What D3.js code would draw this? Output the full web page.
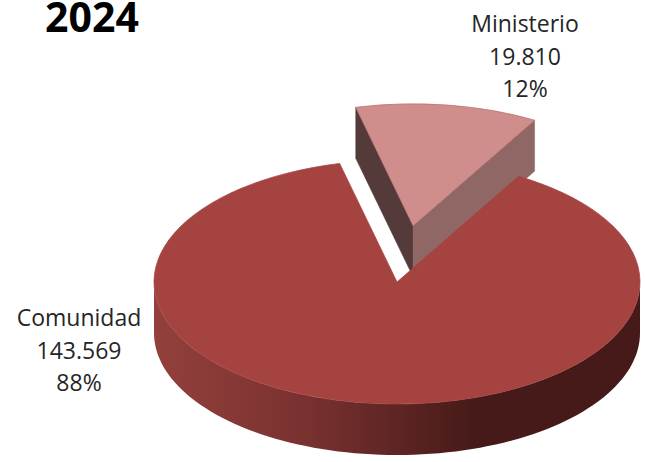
<!DOCTYPE html>
<html lang="es">
<head>
  <meta charset="utf-8">
  <title>2024</title>
  <style>
    html,body { margin:0; padding:0; overflow:hidden; background:#fff; }
    svg { display:block; }
    text { font-family:"Open Sans",sans-serif; fill:#262626; }
  </style>
  <script src="https://cdn.jsdelivr.net/npm/d3@7"></script>
</head>
<body>
  <svg width="645" height="462"></svg>
  <script>
  // data
  const title = "2024";
  const categories = ["Comunidad", "Ministerio"];
  const values = [143569, 19810];
  const valueLabels = ["143.569", "19.810"];
  const percentLabels = ["88%", "12%"];

  // pie geometry
  const cx = 397, cy = 282, rx = 243, ry = 122, depth = 51;
  const explode = 0.465;         // pull-out of the small slice, in radius units
  const rad = Math.PI / 180;

  const svg = d3.select("svg");

  const slices = d3.pie().sort(null)
    .startAngle(30 * rad)
    .endAngle(390 * rad)(values);
  const main = slices[0], small = slices[1];

  const smallMid = (small.startAngle + small.endAngle) / 2;
  const offX = rx * explode * Math.sin(smallMid);
  const offY = -ry * explode * Math.cos(smallMid);

  // point on the tilted pie; r in radius units, z going down
  const project = (angle, r, z, dx = 0, dy = 0) => [
    cx + dx + rx * r * Math.sin(angle),
    cy + dy - ry * r * Math.cos(angle) + z
  ];

  const line = d3.line();
  const arc = d3.arc().innerRadius(0).outerRadius(rx);

  const grad = svg.append("defs").append("linearGradient")
    .attr("id", "rim")
    .attr("gradientUnits", "userSpaceOnUse")
    .attr("x1", cx - rx).attr("x2", cx + rx).attr("y1", 0).attr("y2", 0);
  [[0, "#93403c"], [0.3, "#7a3230"], [0.5, "#5e2524"], [0.66, "#461a18"], [1, "#461a18"]]
    .forEach(s => grad.append("stop").attr("offset", s[0]).attr("stop-color", s[1]));

  /* small slice first, the big one overlaps its side faces */
  const face = (angle, fill) => {
    const a = project(0, 0, 0, offX, offY), b = project(angle, 1, 0, offX, offY);
    const c = project(angle, 1, depth, offX, offY), d = project(0, 0, depth, offX, offY);
    svg.append("path").attr("d", line([a, b, c, d]) + "Z")
      .attr("fill", fill).attr("stroke", fill).attr("stroke-width", 0.5);
  };
  face(small.startAngle, "#553a3a");
  face(small.endAngle, "#8f6765");

  const topFace = (d, fill, stroke, dx, dy) => {
    svg.append("path")
      .attr("d", arc(d))
      .attr("transform", `translate(${cx + dx},${cy + dy}) scale(1,${ry / rx})`)
      .attr("fill", fill)
      .attr("stroke", stroke)
      .attr("stroke-width", 1);
  };
  topFace(small, "#cf8e8c", "#b86f6d", offX, offY);

  /* front wall of the big slice */
  const rimAngles = d3.range(90, 270.5, 2).map(a => a * rad);
  const rimPts = rimAngles.map(a => project(a, 1, 0))
    .concat(rimAngles.slice().reverse().map(a => project(a, 1, depth)));
  svg.append("path").attr("d", line(rimPts) + "Z").attr("fill", "url(#rim)");

  topFace(main, "#a54341", "#a54341", 0, 0);

  /* labels */
  svg.append("text").attr("x", 92).attr("y", 32)
    .attr("text-anchor", "middle")
    .style("font-size", "41px").style("font-weight", 700).style("fill", "#000")
    .text(title);

  const labelPos = [[79, 326], [525, 32]];
  categories.forEach((c, i) => {
    const t = svg.append("text")
      .attr("text-anchor", "middle")
      .style("font-size", "23px");
    [c, valueLabels[i], percentLabels[i]].forEach((s, j) => {
      t.append("tspan")
        .attr("x", labelPos[i][0])
        .attr("y", labelPos[i][1] + j * 32.5)
        .text(s);
    });
  });
  </script>
</body>
</html>
